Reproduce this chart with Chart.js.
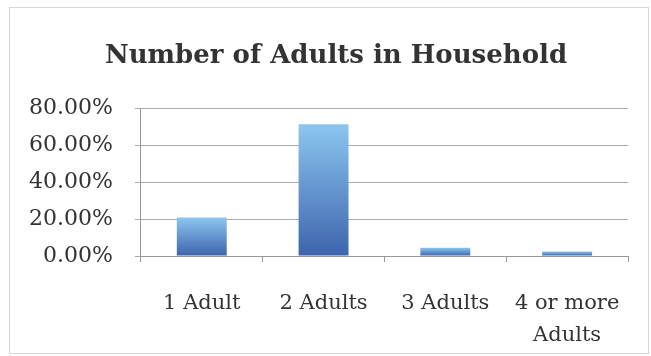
<!DOCTYPE html>
<html>
<head>
<meta charset="utf-8">
<script src="https://cdn.jsdelivr.net/npm/chart.js@4"></script>
<style>
  html, body { margin: 0; padding: 0; background: #fff; }
  #wrap { position: relative; width: 651px; height: 356px; }
  #frame { position: absolute; left: 9px; top: 7px; width: 638px; height: 345px;
           border: 1px solid #d6d6d6; pointer-events: none; }
</style>
</head>
<body>
<div id="wrap">
  <canvas id="chart" width="651" height="356"></canvas>
  <div id="frame"></div>
</div>
<script>
let title = 'Number of Adults in Household';
let labels = ['1 Adult', '2 Adults', '3 Adults', ['4 or more', 'Adults']];
let shares = [20.8, 71.3, 4.5, 2.5];
let yTicks = [0, 20, 40, 60, 80];

const serif = '"DejaVu Serif", serif';

function barFill(ctx) {
  let chart = ctx.chart;
  if (!chart.chartArea || ctx.type !== 'data') return '#5b8fd3';
  let y = chart.scales.y;
  let top = y.getPixelForValue(ctx.raw);
  let bottom = y.getPixelForValue(0);
  let g = chart.ctx.createLinearGradient(0, top, 0, bottom);
  g.addColorStop(0, '#8cc6f0');
  g.addColorStop(1, '#3d64ad');
  return g;
}

// nudge the title a little right, like the original
const titleShift = {
  id: 'titleShift',
  afterLayout(chart) {
    if (chart.titleBlock) chart.titleBlock.left += 37;
  }
};

new Chart(document.getElementById('chart'), {
  type: 'bar',
  data: {
    labels,
    datasets: [{
      data: shares,
      backgroundColor: barFill,
      borderWidth: 0,
      barPercentage: 0.82,
      categoryPercentage: 0.5
    }]
  },
  plugins: [titleShift],
  options: {
    responsive: false,
    animation: false,
    layout: { padding: { left: 7, right: 23, top: 0, bottom: 0 } },
    plugins: {
      legend: { display: false },
      tooltip: { enabled: false },
      title: {
        display: true,
        text: title,
        color: '#333',
        font: { family: serif, size: 26, weight: 'bold', lineHeight: 1.2 },
        padding: { top: 41, bottom: 36 }
      }
    },
    scales: {
      x: {
        afterFit: s => { s.height = 100; },
        grid: { display: true, drawOnChartArea: false, drawTicks: true, tickLength: 6, color: '#999', offset: true },
        border: { color: '#999' },
        ticks: { color: '#333', font: { family: serif, size: 21, lineHeight: 1.5 }, padding: 26, maxRotation: 0 }
      },
      y: {
        min: 0,
        max: 80,
        afterBuildTicks: axis => { axis.ticks = yTicks.map(v => ({ value: v })); },
        grid: { color: '#aaa', tickLength: 6 },
        border: { color: '#999' },
        ticks: {
          color: '#333',
          font: { family: serif, size: 22 },
          padding: 22,
          callback: v => v.toFixed(2) + '%'
        }
      }
    }
  }
});
</script>
</body>
</html>
